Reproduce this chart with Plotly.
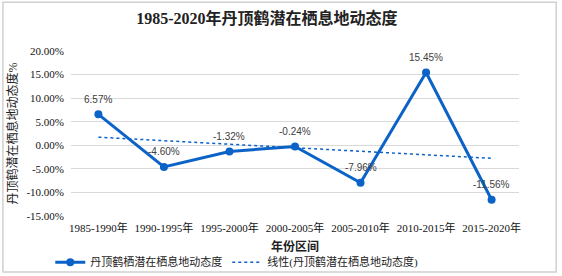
import numpy as np
import plotly.graph_objects as go

categories = ["1985-1990年", "1990-1995年", "1995-2000年", "2000-2005年", "2005-2010年", "2010-2015年", "2015-2020年"]
values = [6.57, -4.60, -1.32, -0.24, -7.96, 15.45, -11.56]
y_ticks = [20, 15, 10, 5, 0, -5, -10, -15]
y_tick_labels = ["20.00%", "15.00%", "10.00%", "5.00%", "0.00%", "-5.00%", "-10.00%", "-15.00%"]

# linear trendline fitted to the series
xi = np.arange(1, len(values) + 1)
slope, intercept = np.polyfit(xi, values, 1)
trend = [slope * x + intercept for x in xi]

blue = "#0b63c8"
serif = "Liberation Serif, Noto Sans CJK SC, serif"
sans = "Liberation Sans, Noto Sans CJK SC, sans-serif"

fig = go.Figure()
fig.add_trace(go.Scatter(
    x=categories, y=values, mode="lines+markers",
    name="丹顶鹤栖潜在栖息地动态度",
    line=dict(color=blue, width=3),
    marker=dict(size=8, color=blue),
))
fig.add_trace(go.Scatter(
    x=categories, y=trend, mode="lines",
    name="线性(丹顶鹤潜在栖息地动态度)",
    line=dict(color=blue, width=1.5, dash="dot"),
))

annotations = [
    dict(x=c, y=v, text=f"{v:.2f}%", showarrow=False, yshift=15, yanchor="middle",
         font=dict(family=sans, size=10, color="#404040"))
    for c, v in zip(categories, values)
]

fig.update_layout(
    width=562, height=276,
    margin=dict(l=71, r=43, t=51, b=60, autoexpand=False),
    paper_bgcolor="white", plot_bgcolor="white",
    title=dict(text="<b>1985-2020年丹顶鹤潜在栖息地动态度</b>", x=0.475, xanchor="center",
               y=0.935, yanchor="middle",
               font=dict(family=serif, size=16, color="#222")),
    showlegend=True,
    legend=dict(orientation="h", x=0.37, xanchor="center", y=-0.28, yanchor="middle",
                font=dict(family=serif, size=11, color="#222"), itemwidth=30,
                bgcolor="rgba(0,0,0,0)"),
    annotations=annotations,
    xaxis=dict(
        type="category", showgrid=False, showline=False, ticks="", automargin=False,
        ticklabelstandoff=4,
        tickfont=dict(family=serif, size=11, color="#111"),
        title=dict(text="<b>年份区间</b>", font=dict(family=serif, size=12, color="#222"), standoff=9),
    ),
    yaxis=dict(
        range=[-15, 20], tickvals=y_ticks, ticktext=y_tick_labels, automargin=False,
        ticklabelstandoff=6,
        showgrid=True, gridcolor="#d9d9d9", gridwidth=1, zeroline=False,
        tickfont=dict(family=serif, size=11, color="#111"),
        title=dict(text="丹顶鹤潜在栖息地动态度%", font=dict(family=serif, size=12, color="#222"), standoff=6),
    ),
    shapes=[dict(type="rect", xref="paper", yref="paper",
                 x0=-0.152, x1=1.083, y0=-0.34, y1=1.295,
                 line=dict(color="#d0d0d0", width=1.5), fillcolor="rgba(0,0,0,0)", layer="below")],
)

fig.write_html("out.html", config={"displayModeBar": False},
               post_script="document.body.style.margin='0';document.body.style.overflow='hidden';")
